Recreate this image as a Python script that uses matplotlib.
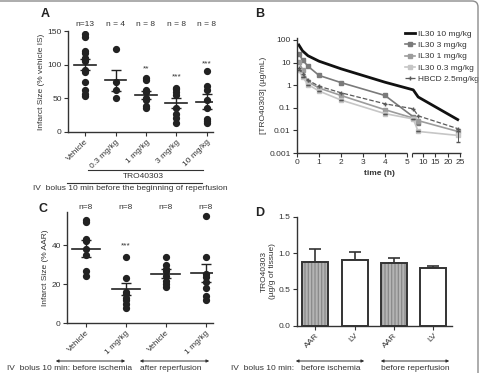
import numpy as np
import matplotlib
matplotlib.use('Agg')
import matplotlib.pyplot as plt
from matplotlib.patches import FancyBboxPatch
from matplotlib.transforms import IdentityTransform

plt.rcParams['font.family'] = ['Liberation Sans', 'DejaVu Sans']
plt.rcParams['hatch.linewidth'] = 0.9

# ---------------- data ----------------
# Panel A
a_groups = ["Vehicle", "0.3 mg/kg", "1 mg/kg", "3 mg/kg", "10 mg/kg"]
a_n = ["n=13", "n = 4", "n = 8", "n = 8", "n = 8"]
a_vehicle = [145, 141, 120, 117, 110, 108, 106, 92, 89, 75, 63, 56, 54]
a_03 = [123, 74, 62, 50]
a_1 = [80, 77, 62, 59, 51, 47, 38, 35]
a_3 = [66, 64, 60, 55, 36, 26, 21, 14]
a_10 = [91, 68, 63, 48, 35, 20, 16, 13]
a_mean = [100, 77, 55, 43, 45]
a_sem = [8, 15.5, 6.5, 7, 11]
a_stars = ["", "", "**", "***", "***"]
a_star_y = [0, 0, 94, 82, 101]

# Panel B
b_time = [0.083, 0.25, 0.5, 1, 2, 4, 6, 8, 24]
b_10 = [60, 33, 20, 11.5, 5.3, 1.35, 0.62, 0.30, 0.030]
b_3 = [25, 13, 6.9, 2.7, 1.3, 0.35, 0.040, 0.021, np.nan]
b_1 = [10.5, 4.9, 1.4, 0.75, 0.35, 0.082, 0.035, 0.027, 0.009]
b_03 = [4.5, 2.3, 1.07, 0.55, 0.22, 0.055, 0.032, 0.009, 0.006]
b_hbcd = [5.5, 3.2, 1.66, 0.90, 0.46, 0.15, 0.09, 0.044, 0.012]
b_03_err_lo = [0, 0, 0, 0, 0, 0, 0, 0, 0.0029]
b_03_err_hi = [0, 0, 0, 0, 0, 0, 0, 0, 0.003]
b_labels = ["IL30 10 mg/kg", "IL30 3 mg/kg", "IL30 1 mg/kg", "IL30 0.3 mg/kg", "HBCD 2.5mg/kg"]

# Panel C
c_groups = ["Vehicle", "1 mg/kg", "Vehicle", "1 mg/kg"]
c_n = ["n=8", "n=8", "n=8", "n=8"]
c_veh_before = [53, 52, 43, 42, 38, 35, 27, 24]
c_1_before = [34, 23, 16, 15, 13, 12, 10, 8]
c_veh_after = [34, 30, 28, 27, 24, 21.5, 20, 18.5]
c_1_after = [55, 34, 25, 23.5, 21, 18, 14, 12]
c_mean = [38.3, 17.5, 25.5, 25.8]
c_sem = [4.3, 3.2, 2.3, 4.8]
c_stars = ["", "***", "", ""]
c_star_y = [0, 39.5, 0, 0]

# Panel D
d_labels = ["AAR", "LV", "AAR", "LV"]
d_vals = [0.88, 0.90, 0.86, 0.79]
d_err = [0.18, 0.11, 0.075, 0.035]

# ---------------- layout helpers ----------------
W, H = 483, 373
fig = plt.figure(figsize=(W / 100, H / 100), dpi=100)
fc = '#333333'
FS = 6


def rect(l, t, r, b):
    return [l / W, 1 - b / H, (r - l) / W, (b - t) / H]


def fx(x):
    return x / W


def fy(y):
    return 1 - y / H


def style(ax):
    for s in ['top', 'right']:
        ax.spines[s].set_visible(False)
    for s in ['left', 'bottom']:
        ax.spines[s].set_color(fc)
        ax.spines[s].set_linewidth(1.0)
    ax.tick_params(direction='out', length=3, width=0.8, color=fc,
                   labelsize=FS, labelcolor=fc, pad=1.5)


def scatter_panel(ax, groups_data, means, sems):
    for i, vals in enumerate(groups_data):
        ax.plot([i] * len(vals), vals, 'o', ms=4.2, color='#222222', zorder=3)
        ax.plot([i - 0.36, i + 0.36], [means[i], means[i]], color='#222222', lw=1.2, zorder=4)
        ax.errorbar([i], [means[i]], yerr=[sems[i]], color='#222222', lw=1.0,
                    capsize=3.5, capthick=1.0, zorder=4)


# ---------------- Panel A ----------------
axA = fig.add_axes(rect(68, 31, 213, 132))
style(axA)
scatter_panel(axA, [a_vehicle, a_03, a_1, a_3, a_10], a_mean, a_sem)
axA.set_xlim(-0.56, 4.2)
axA.set_ylim(0, 150)
axA.set_yticks([0, 50, 100, 150])
axA.set_xticks(range(len(a_groups)))
axA.set_xticklabels(a_groups, rotation=45, ha='right', rotation_mode='anchor')
axA.set_ylabel("Infarct Size (% vehicle IS)", fontsize=FS, color=fc, labelpad=2)
for i, t in enumerate(a_n):
    axA.text(i, 159, t, fontsize=FS, color=fc, ha='center', va='center', clip_on=False)
for i, s in enumerate(a_stars):
    if s:
        axA.text(i, a_star_y[i], s, fontsize=FS, color=fc, ha='center', va='center')

fig.text(fx(45), fy(14), "A", fontsize=9, fontweight='bold', color='#222', ha='center', va='center')
fig.add_artist(plt.Line2D([fx(88), fx(203)], [fy(170), fy(170)], color=fc, lw=0.8))
fig.text(fx(143), fy(177), "TRO40303", fontsize=FS, color=fc, ha='center', va='center')
fig.add_artist(plt.Line2D([fx(67), fx(202)], [fy(183), fy(183)], color=fc, lw=0.8))
fig.text(fx(130), fy(188.5), "IV  bolus 10 min before the beginning of reperfusion",
         fontsize=FS, color=fc, ha='center', va='center')

# ---------------- Panel B ----------------
G0, G1 = 5.0, 5.5
GAP = 5 / 22
R = 2.47 / 22


def fwd(t):
    t = np.asarray(t, float)
    return np.where(t <= G0, t,
                    np.where(t < G1, G0 + (t - G0) / (G1 - G0) * GAP,
                             G0 + GAP + (t - G1) * R))


def inv(u):
    u = np.asarray(u, float)
    return np.where(u <= G0, u,
                    np.where(u < G0 + GAP, G0 + (u - G0) / GAP * (G1 - G0),
                             G1 + (u - G0 - GAP) / R))


axB = fig.add_axes(rect(297, 38, 461.4, 153))
style(axB)
axB.set_xscale('function', functions=(fwd, inv))
axB.set_yscale('log')
h10, = axB.plot(b_time, b_10, '-', color='#111111', lw=2.0)
h3, = axB.plot(b_time, b_3, '-s', color='#7a7a7a', lw=1.2, ms=2.3)
h1, = axB.plot(b_time, b_1, '-s', color='#9c9c9c', lw=1.2, ms=2.3)
h03, = axB.plot(b_time, b_03, '-s', color='#c6c6c6', lw=1.2, ms=2.3)
axB.errorbar(b_time, b_03, yerr=[b_03_err_lo, b_03_err_hi], fmt='none',
             ecolor='#555555', elinewidth=0.7, capsize=1.5)
hh, = axB.plot(b_time, b_hbcd, '--+', color='#5a5a5a', lw=0.9, ms=3.0)
axB.set_xlim(0, 25.5)
axB.set_ylim(0.001, 122)
axB.set_yticks([100, 10, 1, 0.1, 0.01, 0.001])
axB.set_yticklabels(["100", "10", "1", "0.1", "0.01", "0.001"])
axB.yaxis.set_minor_locator(matplotlib.ticker.NullLocator())
axB.set_xticks([0, 1, 2, 3, 4, 5, 10, 15, 20, 25])
axB.set_xticklabels(["0", "1", "2", "3", "4", "5", "10", "15", "20", "25"])
axB.set_xticks([G1], minor=True)
axB.tick_params(axis='x', which='minor', length=3, width=0.8, color=fc)
axB.spines['bottom'].set_visible(False)
axB.plot([0, G0], [0, 0], transform=axB.get_xaxis_transform(), color=fc, lw=1.0,
         clip_on=False, solid_capstyle='butt')
axB.plot([G1, 25.5], [0, 0], transform=axB.get_xaxis_transform(), color=fc, lw=1.0,
         clip_on=False, solid_capstyle='butt')
axB.set_xlabel("time (h)", fontsize=FS, fontweight='bold', color=fc, labelpad=3)
axB.set_ylabel("[TRO40303] (µg/mL)", fontsize=FS, color=fc, labelpad=2)
axB.legend([h10, h3, h1, h03, hh], b_labels, loc='upper left',
           bbox_to_anchor=(fx(402), fy(27)), bbox_transform=fig.transFigure,
           frameon=False, fontsize=FS, handlelength=1.2, handletextpad=0.35,
           labelspacing=0.4, borderaxespad=0, labelcolor=fc)
fig.text(fx(260), fy(14), "B", fontsize=9, fontweight='bold', color='#222', ha='center', va='center')

# ---------------- Panel C ----------------
axC = fig.add_axes(rect(67, 212, 213, 323.3))
style(axC)
scatter_panel(axC, [c_veh_before, c_1_before, c_veh_after, c_1_after], c_mean, c_sem)
axC.set_xlim(-0.475, 3.18)
axC.set_ylim(0, 57)
axC.set_yticks([0, 20, 40])
axC.set_xticks(range(len(c_groups)))
axC.set_xticklabels(c_groups, rotation=45, ha='right', rotation_mode='anchor')
axC.set_ylabel("Infarct Size (% AAR)", fontsize=FS, color=fc, labelpad=2)
for i, t in enumerate(c_n):
    axC.text(i, 59.5, t, fontsize=FS, color=fc, ha='center', va='center', clip_on=False)
for i, s in enumerate(c_stars):
    if s:
        axC.text(i, c_star_y[i], s, fontsize=FS, color=fc, ha='center', va='center')
fig.text(fx(43), fy(209), "C", fontsize=9, fontweight='bold', color='#222', ha='center', va='center')

# ---------------- Panel D ----------------
axD = fig.add_axes(rect(296.7, 216.7, 451.7, 325.7))
style(axD)
xs = np.arange(len(d_vals))
axD.errorbar(xs, d_vals, yerr=[[0] * len(d_err), d_err], fmt='none', ecolor=fc,
             elinewidth=1.2, capsize=4, capthick=1.2, zorder=1)
for i, v in enumerate(d_vals):
    if d_labels[i] == "AAR":
        axD.bar(i, v, width=0.66, color='#b4b4b4', hatch='|||||', edgecolor='#8a8a8a',
                lw=0, zorder=2)
        axD.bar(i, v, width=0.66, color='none', edgecolor=fc, lw=1.4, zorder=3)
    else:
        axD.bar(i, v, width=0.66, color='white', edgecolor=fc, lw=1.4, zorder=2)
axD.set_xlim(-0.47, 3.47)
axD.set_ylim(0, 1.5)
axD.set_yticks([0, 0.5, 1.0, 1.5])
axD.set_yticklabels(["0.0", "0.5", "1.0", "1.5"])
axD.set_xticks(xs)
axD.set_xticklabels(d_labels, rotation=45, ha='right', rotation_mode='anchor')
axD.set_ylabel("TRO40303\n(µg/g of tissue)", fontsize=FS, color=fc, labelpad=2, linespacing=1.1)
fig.text(fx(260), fy(213), "D", fontsize=9, fontweight='bold', color='#222', ha='center', va='center')

# ---------------- bottom annotations ----------------
def darrow(x0, x1, y):
    fig.add_artist(matplotlib.patches.FancyArrowPatch(
        (fx(x0), fy(y)), (fx(x1), fy(y)), transform=fig.transFigure,
        arrowstyle='<|-|>', mutation_scale=4, lw=0.7, color=fc))

darrow(53, 128, 361)
darrow(137, 212, 361)
darrow(293, 367, 361)
darrow(378, 452, 361)
fig.text(fx(7), fy(369), "IV  bolus 10 min: before ischemia", fontsize=FS, color=fc, ha='left', va='center')
fig.text(fx(140), fy(369), "after reperfusion", fontsize=FS, color=fc, ha='left', va='center')
fig.text(fx(231), fy(369), "IV  bolus 10 min:", fontsize=FS, color=fc, ha='left', va='center')
fig.text(fx(301), fy(369), "before ischemia", fontsize=FS, color=fc, ha='left', va='center')
fig.text(fx(381), fy(369), "before reperfusion", fontsize=FS, color=fc, ha='left', va='center')

# frame
frame = FancyBboxPatch((-10, -10), 488, 382, boxstyle='round,pad=0,rounding_size=6',
                       transform=IdentityTransform(), fill=False, edgecolor='#8c8c8c', lw=1.0)
fig.add_artist(frame)

fig.savefig('out.png', dpi=100)
